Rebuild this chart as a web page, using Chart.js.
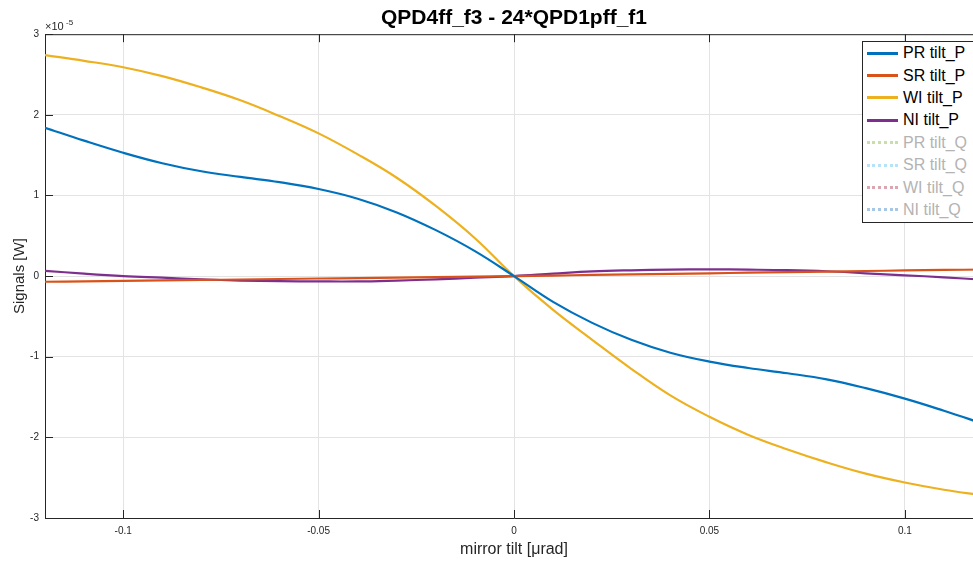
<!DOCTYPE html>
<html>
<head>
  <title>QPD4ff_f3 - 24*QPD1pff_f1</title>
  <script src="https://cdn.jsdelivr.net/npm/chart.js"></script>
  <style>
    body { margin: 0; background: #fff; overflow: hidden; }
    #wrap { position: relative; width: 1028px; height: 564px; }
    /* legend box, MATLAB style, sits inside the axes */
    #legend {
      position: absolute; left: 862px; top: 41px; width: 115px;
      background: #fff; border: 1px solid #262626;
      font-family: "Liberation Sans", Arial, sans-serif; font-size: 16px;
      padding: 0 0 1px 0;
    }
    #legend .item { display: flex; align-items: center; height: 22.4px; }
    #legend .swatch { width: 31px; margin: 0 5px 0 4px; border-top-width: 3px; border-top-style: solid; }
    #legend .off .swatch { border-top-style: dotted; border-top-width: 3px; }
    #legend .off span { color: #b3b3b3; }
  </style>
</head>
<body>
<div id="wrap">
  <canvas id="chart" width="1028" height="564"></canvas>
  <div id="legend"></div>
</div>
<script>
// mirror tilt [urad]
var xs = [-0.12, -0.11, -0.10, -0.09, -0.08, -0.07, -0.06, -0.05, -0.04, -0.03, -0.02, -0.01,
          0, 0.01, 0.02, 0.03, 0.04, 0.05, 0.06, 0.07, 0.08, 0.09, 0.10, 0.11, 0.12];

// signals, in units of 1e-5 W
var prTiltP = [1.84, 1.68, 1.53, 1.40, 1.30, 1.23, 1.165, 1.08, 0.96, 0.79, 0.57, 0.31,
               0, -0.32, -0.58, -0.79, -0.95, -1.06, -1.14, -1.205, -1.28, -1.39, -1.52, -1.67, -1.83];
var srTiltP = [-0.070, -0.065, -0.060, -0.054, -0.048, -0.042, -0.036, -0.030, -0.024, -0.018, -0.012, -0.006,
               0, 0.007, 0.014, 0.021, 0.028, 0.035, 0.042, 0.049, 0.056, 0.063, 0.070, 0.076, 0.082];
var wiTiltP = [2.74, 2.67, 2.59, 2.48, 2.34, 2.18, 1.985, 1.77, 1.51, 1.22, 0.87, 0.47,
               0, -0.42, -0.79, -1.15, -1.48, -1.745, -1.97, -2.15, -2.31, -2.45, -2.56, -2.65, -2.72];
var niTiltP = [0.066, 0.030, 0.000, -0.020, -0.040, -0.055, -0.063, -0.066, -0.066, -0.055, -0.040, -0.020,
               0, 0.030, 0.058, 0.072, 0.080, 0.083, 0.080, 0.074, 0.060, 0.035, 0.010, -0.015, -0.045];

var xTicks = [-0.1, -0.05, 0, 0.05, 0.1];
var yTicks = [-3, -2, -1, 0, 1, 2, 3];

var seriesNames = ['PR tilt_P', 'SR tilt_P', 'WI tilt_P', 'NI tilt_P',
                   'PR tilt_Q', 'SR tilt_Q', 'WI tilt_Q', 'NI tilt_Q'];
var seriesColors = ['#0072BD', '#D95319', '#EDB120', '#7E2F8E',
                    '#c9dfaa', '#b6e3f7', '#dba5b1', '#a6c8e6'];
var seriesData = [prTiltP, srTiltP, wiTiltP, niTiltP, [], [], [], []];

var AXIS = '#262626';
var FONT = '"Liberation Sans", Arial, sans-serif';

function toPoints(ys) {
  return ys.map(function(y, i) { return { x: xs[i], y: y }; });
}

var datasets = seriesNames.map(function(name, i) {
  return {
    label: name,
    data: toPoints(seriesData[i]),
    borderColor: seriesColors[i],
    borderWidth: 2.2,
    borderDash: i > 3 ? [2, 2] : [],
    pointRadius: 0,
    fill: false,
    tension: 0.4,
    hidden: i > 3
  };
});

// top frame line, inward ticks and the x10^-5 multiplier
var matlabAxes = {
  id: 'matlabAxes',
  afterDraw: function(chart) {
    var ctx = chart.ctx, a = chart.chartArea;
    var sx = chart.scales.x, sy = chart.scales.y;
    ctx.save();
    ctx.strokeStyle = AXIS;
    ctx.lineWidth = 1;
    ctx.beginPath();
    ctx.moveTo(a.left, a.top + 0.5);
    ctx.lineTo(a.right, a.top + 0.5);
    xTicks.forEach(function(v) {
      var px = Math.round(sx.getPixelForValue(v)) + 0.5;
      ctx.moveTo(px, a.bottom); ctx.lineTo(px, a.bottom - 8);
      ctx.moveTo(px, a.top); ctx.lineTo(px, a.top + 8);
    });
    yTicks.forEach(function(v) {
      var py = Math.round(sy.getPixelForValue(v)) + 0.5;
      ctx.moveTo(a.left, py); ctx.lineTo(a.left + 8, py);
    });
    ctx.stroke();
    ctx.fillStyle = AXIS;
    ctx.textBaseline = 'alphabetic';
    ctx.font = '11px ' + FONT;
    ctx.fillText('\u00d710', a.left, a.top - 4);
    ctx.font = '8px ' + FONT;
    ctx.fillText('-5', a.left + 21, a.top - 9);
    ctx.restore();
  }
};

new Chart(document.getElementById('chart'), {
  type: 'line',
  data: { datasets: datasets },
  plugins: [matlabAxes],
  options: {
    responsive: false,
    animation: false,
    layout: { padding: { left: 0, right: 45, top: 0, bottom: 0 } },
    plugins: {
      legend: { display: false },
      tooltip: { enabled: false },
      title: {
        display: true,
        fullSize: false,   // centre over the axes, not the canvas
        text: 'QPD4ff_f3 - 24*QPD1pff_f1',
        color: '#000',
        font: { family: FONT, size: 21, weight: 'bold' },
        padding: { top: 6, bottom: 3 }
      }
    },
    scales: {
      x: {
        type: 'linear',
        min: -0.12,
        max: 0.12,
        afterBuildTicks: function(s) { s.ticks = xTicks.map(function(v) { return { value: v }; }); },
        afterFit: function(s) { s.height = 46; },
        ticks: {
          color: AXIS, padding: 7, maxRotation: 0,
          font: { family: FONT, size: 10 },
          callback: function(v) { return String(v); }
        },
        grid: { color: '#e3e3e3', drawTicks: false },
        border: { color: AXIS, width: 1 },
        title: {
          display: true, text: 'mirror tilt [\u03bcrad]', color: AXIS,
          font: { family: FONT, size: 16 }, padding: { top: 0, bottom: 5 }
        }
      },
      y: {
        type: 'linear',
        min: -3,
        max: 3,
        afterBuildTicks: function(s) { s.ticks = yTicks.map(function(v) { return { value: v }; }); },
        afterFit: function(s) { s.width = 45; },
        ticks: {
          color: AXIS, padding: 6,
          font: { family: FONT, size: 10 },
          callback: function(v) { return String(v); }
        },
        grid: { color: '#e3e3e3', drawTicks: false },
        border: { color: AXIS, width: 1 },
        title: {
          display: true, text: 'Signals [W]', color: AXIS,
          font: { family: FONT, size: 15 }, padding: { top: 11, bottom: 0 }
        }
      }
    }
  }
});

// legend (Q traces are switched off, shown greyed)
var legendEl = document.getElementById('legend');
seriesNames.forEach(function(name, i) {
  var row = document.createElement('div');
  row.className = 'item' + (i > 3 ? ' off' : '');
  var sw = document.createElement('div');
  sw.className = 'swatch';
  sw.style.borderTopColor = seriesColors[i];
  var label = document.createElement('span');
  label.textContent = name;
  row.appendChild(sw);
  row.appendChild(label);
  legendEl.appendChild(row);
});
</script>
</body>
</html>
